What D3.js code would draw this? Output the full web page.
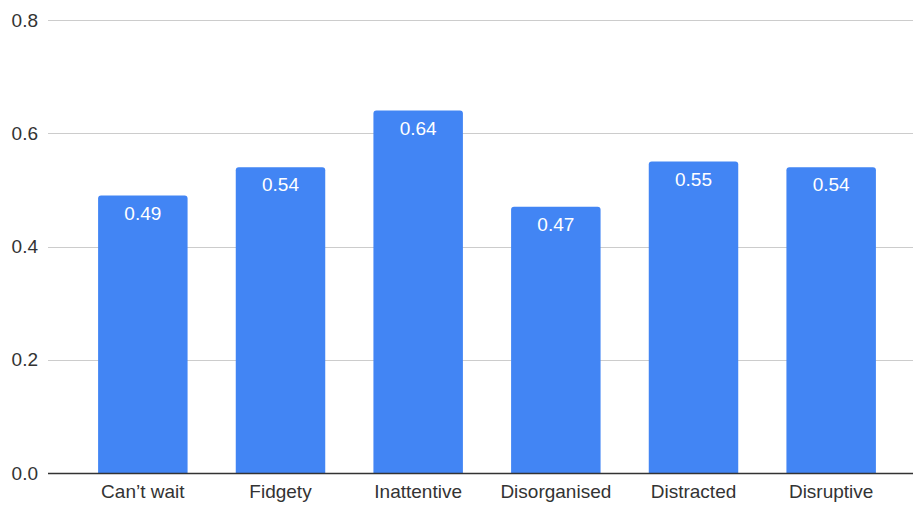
<!DOCTYPE html>
<html>
<head>
<meta charset="utf-8">
<script src="https://cdn.jsdelivr.net/npm/d3@7"></script>
<style>
  html, body { margin: 0; padding: 0; background: #fff; }
  svg { display: block; font-family: Arial, "Liberation Sans", sans-serif; }
</style>
</head>
<body>
<svg id="chart" width="913" height="505"></svg>
<script>
const categories = ["Can\u2019t wait", "Fidgety", "Inattentive", "Disorganised", "Distracted", "Disruptive"];
const values = [0.49, 0.54, 0.64, 0.47, 0.55, 0.54];
const yTicks = [0, 0.2, 0.4, 0.6, 0.8];
const yTickLabels = ["0.0", "0.2", "0.4", "0.6", "0.8"];

const svg = d3.select("#chart");
const plotLeft = 48, plotRight = 913;

const x = d3.scaleBand().domain(categories).range([74, 900]).paddingInner(0.35).paddingOuter(0.175);
const y = d3.scaleLinear().domain([0, 0.8]).range([473, 20]);

// gridlines
svg.append("g").selectAll("line").data(yTicks.slice(1)).join("line")
  .attr("x1", plotLeft).attr("x2", plotRight)
  .attr("y1", d => Math.round(y(d)) + 0.5).attr("y2", d => Math.round(y(d)) + 0.5)
  .attr("stroke", "#cccccc").attr("stroke-width", 1);

// y tick labels
svg.append("g").selectAll("text").data(yTicks).join("text")
  .attr("x", 38).attr("y", d => y(d)).attr("dy", "0.35em")
  .attr("text-anchor", "end").attr("font-size", 19).attr("fill", "#333")
  .text((d, i) => yTickLabels[i]);

// bars with rounded top corners
const r = 3;
svg.append("g").selectAll("path").data(values).join("path")
  .attr("fill", "#4285F4")
  .attr("d", (d, i) => {
    const x0 = x(categories[i]), w = x.bandwidth(), yt = y(d), yb = y(0);
    return `M${x0},${yb}V${yt + r}Q${x0},${yt} ${x0 + r},${yt}H${x0 + w - r}Q${x0 + w},${yt} ${x0 + w},${yt + r}V${yb}Z`;
  });

// value labels
svg.append("g").selectAll("text").data(values).join("text")
  .attr("x", (d, i) => x(categories[i]) + x.bandwidth() / 2)
  .attr("y", d => y(d) + 24)
  .attr("text-anchor", "middle").attr("font-size", 19).attr("fill", "#ffffff")
  .text(d => d.toFixed(2));

// baseline axis
svg.append("line")
  .attr("x1", plotLeft).attr("x2", plotRight)
  .attr("y1", y(0) + 0.5).attr("y2", y(0) + 0.5)
  .attr("stroke", "#333").attr("stroke-width", 1.3);

// x axis labels
svg.append("g").selectAll("text").data(categories).join("text")
  .attr("x", d => x(d) + x.bandwidth() / 2)
  .attr("y", 498)
  .attr("text-anchor", "middle").attr("font-size", 19).attr("fill", "#333")
  .text(d => d);
</script>
</body>
</html>
